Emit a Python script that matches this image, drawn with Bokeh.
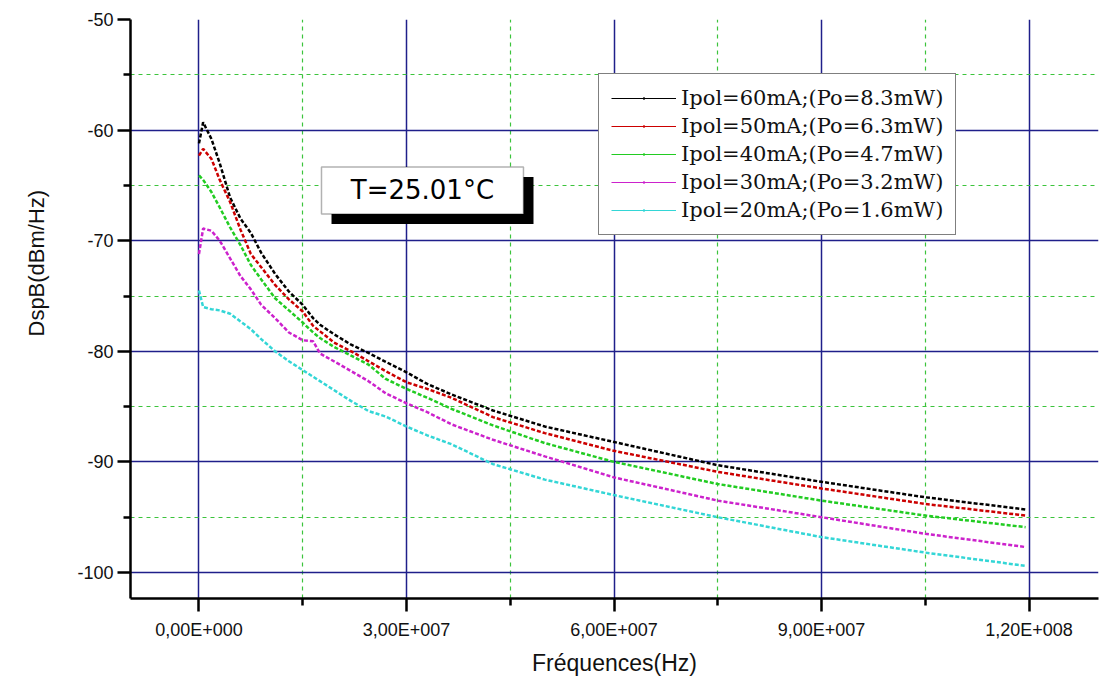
from bokeh.plotting import figure
from bokeh.models import Range1d, FixedTicker, Legend, LegendItem, Label, BoxAnnotation, Title
from bokeh.embed import file_html
from bokeh.resources import INLINE

# ---- data ----
freq_hz = [0.0, 0.06e7, 0.18e7, 0.30e7, 0.45e7, 0.60e7, 0.75e7, 0.90e7, 1.10e7, 1.30e7,
           1.50e7, 1.65e7, 1.75e7, 1.95e7, 2.20e7, 2.45e7, 2.70e7, 3.00e7, 3.30e7, 3.65e7,
           4.25e7, 5.00e7, 6.00e7, 7.50e7, 9.00e7, 10.50e7, 11.95e7]

dsp_60mA = [-61.2, -59.3, -60.8, -63.0, -66.1, -68.0, -69.3, -71.1, -73.0, -74.6,
            -75.8, -77.0, -77.6, -78.45, -79.4, -80.15, -80.95, -81.9, -82.95, -83.9,
            -85.35, -86.8, -88.2, -90.3, -91.8, -93.2, -94.3]
dsp_50mA = [-62.3, -61.7, -62.6, -64.5, -66.5, -69.0, -71.2, -72.4, -74.0, -75.3,
            -76.4, -77.7, -78.2, -79.2, -80.0, -80.9, -81.8, -82.8, -83.4, -84.2,
            -85.95, -87.4, -89.0, -90.9, -92.4, -93.8, -94.85]
dsp_40mA = [-64.1, -64.5, -65.6, -67.0, -68.8, -70.4, -72.2, -73.5, -75.2, -76.3,
            -77.4, -78.3, -78.8, -79.6, -80.4, -81.2, -82.5, -83.4, -84.2, -85.2,
            -86.7, -88.3, -90.0, -92.0, -93.5, -94.85, -95.9]
dsp_30mA = [-71.2, -68.9, -69.1, -70.0, -71.6, -73.2, -74.4, -75.8, -77.0, -78.3,
            -79.0, -79.1, -80.2, -80.9, -81.8, -82.7, -83.8, -84.7, -85.5, -86.6,
            -88.0, -89.5, -91.4, -93.5, -95.0, -96.5, -97.7]
dsp_20mA = [-74.5, -76.0, -76.2, -76.3, -76.6, -77.3, -78.0, -78.9, -80.0, -80.9,
            -81.7, -82.3, -82.7, -83.5, -84.5, -85.4, -85.9, -86.8, -87.6, -88.4,
            -90.2, -91.6, -93.0, -95.0, -96.8, -98.2, -99.4]

series_labels = ["Ipol=60mA;(Po=8.3mW)", "Ipol=50mA;(Po=6.3mW)", "Ipol=40mA;(Po=4.7mW)",
                 "Ipol=30mA;(Po=3.2mW)", "Ipol=20mA;(Po=1.6mW)"]
series_colors = ["#000000", "#cc0000", "#22cc22", "#cc22cc", "#33d6d6"]

x_tick_values = [0, 30000000, 60000000, 90000000, 120000000]
x_tick_labels = ["0,00E+000", "3,00E+007", "6,00E+007", "9,00E+007", "1,20E+008"]
x_minor_values = [15000000, 45000000, 75000000, 105000000]
y_tick_values = [-100, -90, -80, -70, -60, -50]
y_tick_labels = ["-100", "-90", "-80", "-70", "-60", "-50"]
y_minor_values = [-95, -85, -75, -65, -55]

temp_text = "T=25.01°C"
x_title = "Fréquences(Hz)"
y_title = "DspB(dBm/Hz)"

# ---- figure ----
p = figure(width=1100, height=678, output_backend="svg", toolbar_location=None,
           x_range=Range1d(-0.99e7, 1.3004e8), y_range=Range1d(-102.35, -50.0),
           min_border_left=130, min_border_top=19, min_border_bottom=80, min_border_right=2)
p.outline_line_color = None
p.background_fill_color = "white"
p.border_fill_color = "white"

# axes
p.xaxis.ticker = FixedTicker(ticks=x_tick_values, minor_ticks=x_minor_values)
p.yaxis.ticker = FixedTicker(ticks=y_tick_values, minor_ticks=y_minor_values)
p.xaxis.major_label_overrides = dict(zip(x_tick_values, x_tick_labels))
p.yaxis.major_label_overrides = dict(zip(y_tick_values, y_tick_labels))
for ax in (p.xaxis[0], p.yaxis[0]):
    ax.axis_line_color = "black"
    ax.axis_line_width = 2.5
    ax.major_tick_line_color = "black"
    ax.major_tick_line_width = 2.5
    ax.minor_tick_line_color = "black"
    ax.minor_tick_line_width = 2.5
    ax.major_tick_in = 0
    ax.minor_tick_in = 0
    ax.major_tick_out = 13
    ax.minor_tick_out = 7
    ax.major_label_text_font = "Liberation Sans"
    ax.major_label_text_font_size = "18px"
    ax.major_label_text_color = "#111111"
p.xaxis.major_label_standoff = 8
p.yaxis.major_label_standoff = 4
p.xaxis.axis_label = x_title
p.xaxis.axis_label_text_font = "Liberation Sans"
p.xaxis.axis_label_text_font_size = "23px"
p.xaxis.axis_label_text_font_style = "normal"
p.xaxis.axis_label_text_color = "#111111"
p.xaxis.axis_label_standoff = 7

# y title: a side title left of the axis, shifted up like the reference
p.add_layout(Title(text=y_title, align="left", offset=262, standoff=47,
                   vertical_align="top",
                   text_font="Liberation Sans", text_font_size="22px",
                   text_font_style="normal", text_color="#111111"), "left")

# grids
p.xgrid.ticker = FixedTicker(ticks=x_tick_values, minor_ticks=x_minor_values)
p.ygrid.ticker = FixedTicker(ticks=y_tick_values[:-1], minor_ticks=y_minor_values)
for g in (p.xgrid[0], p.ygrid[0]):
    g.grid_line_color = "#1f1f8a"
    g.grid_line_width = 1.5
    g.minor_grid_line_color = "#3cc43c"
    g.minor_grid_line_width = 1.2
    g.minor_grid_line_dash = "4 4"

# data
all_series = [dsp_60mA, dsp_50mA, dsp_40mA, dsp_30mA, dsp_20mA]
items = []
for vals, lab, col in zip(all_series, series_labels, series_colors):
    p.line(freq_hz, vals, line_color=col, line_width=2.5, line_dash="4 2")
    # legend-only proxies, placed far outside the visible range
    lr = p.line([-9e8, -8e8], [-300, -300], line_color=col, line_width=1.2)
    sr = p.scatter([-9e8], [-300], marker="dot", size=4, fill_color=col, line_color=col)
    items.append(LegendItem(label=lab, renderers=[lr, sr]))

# temperature box with shadow
shadow = BoxAnnotation(left=1.916e7, right=4.836e7, top=-64.24, bottom=-68.49,
                       fill_color="black", fill_alpha=1.0, line_color=None)
box = BoxAnnotation(left=1.771e7, right=4.691e7, top=-63.34, bottom=-67.58,
                    fill_color="white", fill_alpha=1.0, line_color="black", line_width=1.5)
p.add_layout(shadow)
p.add_layout(box)
p.add_layout(Label(x=3.23e7, y=-65.46, text=temp_text, text_align="center",
                   text_baseline="middle", text_font="DejaVu Sans",
                   text_font_size="26px", text_color="black"))

legend = Legend(items=items, location=(468, 363), orientation="vertical",
                label_text_font="DejaVu Serif", label_text_font_size="21px",
                label_text_color="#111111",
                glyph_width=65, glyph_height=24, label_height=24, label_standoff=5,
                spacing=4, padding=12, margin=0,
                border_line_color="black", border_line_width=1.2,
                background_fill_color="white", background_fill_alpha=1.0)
p.add_layout(legend)

open("out.html", "w").write(file_html(p, INLINE))
